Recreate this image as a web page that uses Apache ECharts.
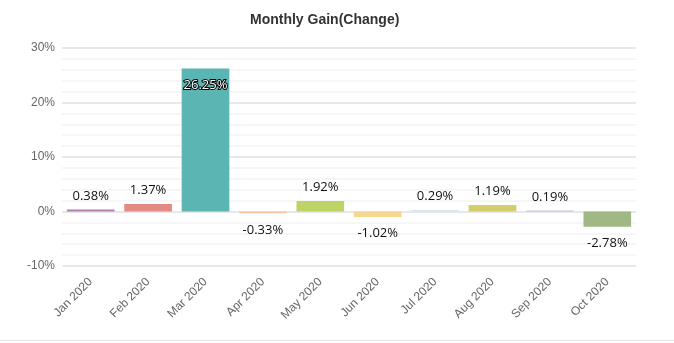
<!DOCTYPE html>
<html>
<head>
<meta charset="utf-8">
<script src="https://cdn.jsdelivr.net/npm/echarts@6/dist/echarts.min.js"></script>
<style>
html,body{margin:0;padding:0;background:#fff;}
#c{width:674px;height:343px;}
#line{position:absolute;left:0;top:340px;width:674px;height:1px;background:#e6e6e6;}
</style>
</head>
<body>
<div id="c"></div>
<div id="line"></div>
<script>
var categories = ['Jan 2020','Feb 2020','Mar 2020','Apr 2020','May 2020','Jun 2020','Jul 2020','Aug 2020','Sep 2020','Oct 2020'];
var gains = [0.38, 1.37, 26.25, -0.33, 1.92, -1.02, 0.29, 1.19, 0.19, -2.78];
var barColors = ['#b47fb2','#e38986','#5bb5b2','#f6c7a4','#bcd465','#f6d790','#d7e5f3','#d3cd6b','#cbbcd8','#9fb884'];
var yTicks = [-10, 0, 10, 20, 30];

var chart = echarts.init(document.getElementById('c'), null, {renderer:'canvas'});
var data = gains.map(function(v, i){
  var item = { value: v, itemStyle: { color: barColors[i] } };
  if (i === 2) {
    item.itemStyle.decal = { symbol: 'circle', symbolSize: 0.25, color: 'rgba(40,110,110,0.55)', dashArrayX: [[1,7],[1,9]], dashArrayY: [1,6], rotation: 0.4 };
    item.label = { position: 'insideTop', distance: 10, color: '#fff', textBorderColor: '#000', textBorderWidth: 2, fontSize: 13 };
  } else if (v < 0) {
    item.label = { position: 'bottom', distance: 10 };
  }
  return item;
});

chart.setOption({
  animation: false,
  title: { text: 'Monthly Gain(Change)', left: 245, top: 8,
    textStyle: { fontSize: 14, fontWeight: 'bold', color: '#333', fontFamily: 'Liberation Sans, Arial' } },
  grid: { left: 62, right: 38, top: 48, bottom: 77 },
  xAxis: {
    type: 'category', data: categories,
    axisLine: { show: false }, axisTick: { show: false },
    axisLabel: { rotate: 45, color: '#666', fontSize: 12, fontFamily: 'Liberation Sans, Arial', margin: 14, interval: 0 }
  },
  yAxis: {
    type: 'value', min: yTicks[0], max: yTicks[yTicks.length-1], interval: 10,
    axisLine: { show: false }, axisTick: { show: false },
    axisLabel: { color: '#666', fontSize: 12, fontFamily: 'Liberation Sans, Arial', formatter: '{value}%', margin: 7, padding: [4,0,0,0] },
    splitLine: { lineStyle: { color: '#e8e8e8', width: 2 } },
    minorTick: { show: false, splitNumber: 5 },
    minorSplitLine: { show: true, lineStyle: { color: '#f4f4f4', width: 1.5 } }
  },
  series: [{
    type: 'bar', data: data, barCategoryGap: '17%',
    label: { show: true, position: 'top', distance: 7, color: '#111', fontSize: 13, fontFamily: 'Open Sans, sans-serif',
      formatter: function(p){ return p.value.toFixed(2) + '%'; } }
  }]
});
</script>
</body>
</html>
